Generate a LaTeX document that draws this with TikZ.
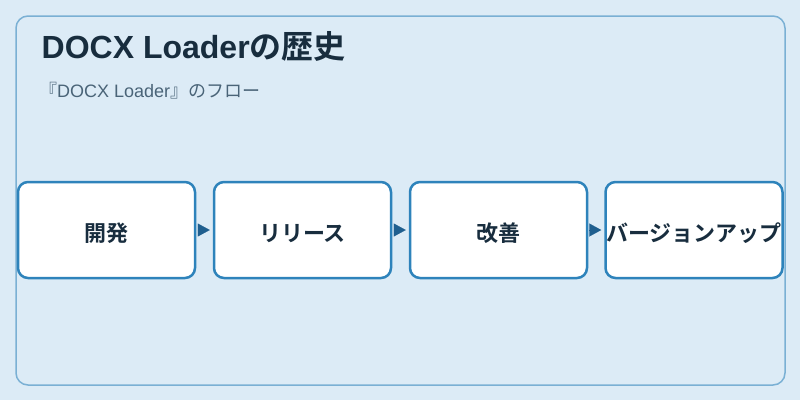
\documentclass[tikz,border=0pt]{standalone}
\usepackage{fontspec}
\setmainfont{Liberation Sans}
\newfontfamily\cjk{Noto Sans CJK JP}[BoldFont={Noto Sans CJK JP Bold}]
\usetikzlibrary{arrows.meta}
\definecolor{bgc}{HTML}{DCEBF6}
\definecolor{framec}{HTML}{7AB0D4}
\definecolor{boxc}{HTML}{2E83BB}
\definecolor{arrc}{HTML}{1F5F8F}
\definecolor{titlec}{HTML}{182D3E}
\definecolor{subc}{HTML}{4A6478}
\tikzset{
  stepbox/.style={draw=boxc, line width=2.5pt, fill=white, rounded corners=10pt,
    minimum width=177pt, minimum height=96pt, inner sep=0pt, text=titlec,
    text height=22pt, text depth=0pt,
    font=\cjk\fontsize{22}{26}\selectfont\bfseries},
  flow/.style={draw=arrc, fill=arrc, line width=0.1pt, -{Triangle[length=12pt,width=13pt]}, shorten >=3pt, shorten <=2pt}
}
\begin{document}
\begin{tikzpicture}[x=1pt,y=-1pt]
\fill[bgc] (0,0) rectangle (800,400);
\useasboundingbox (0,0) rectangle (800,400);
\draw[framec, line width=1.5pt, rounded corners=12pt] (16,16) rectangle (785,385);
\node[anchor=base west, text=titlec, font=\fontsize{32}{36}\selectfont\bfseries, inner sep=0pt] (title) at (41.5,58) {DOCX Loader{\cjk の歴史}};
\node[anchor=base west, text=subc, font=\fontsize{18}{22}\selectfont, inner sep=0pt] (sub) at (39,97) {{\cjk 『}DOCX Loader{\cjk 』のフロー}};
\node[stepbox] (a) at (106.5,230) {開発};
\node[stepbox] (b) at (302.5,230) {リリース};
\node[stepbox] (c) at (498.5,230) {改善};
\node[stepbox] (d) at (694,230) {バージョンアップ};
\draw[flow] (a.east) -- (b.west);
\draw[flow] (b.east) -- (c.west);
\draw[flow] (c.east) -- (d.west);
\end{tikzpicture}
\end{document}
